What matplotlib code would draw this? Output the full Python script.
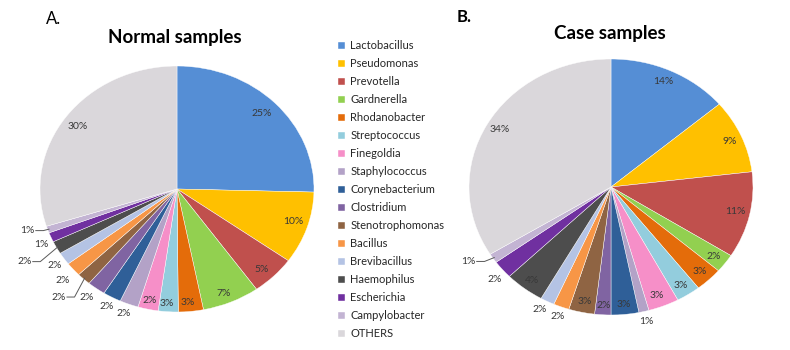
import numpy as np
import matplotlib
matplotlib.use("Agg")
import matplotlib.pyplot as plt

plt.rcParams['font.family'] = ['Lato', 'DejaVu Sans']

# genera (legend order == slice order, clockwise from 12 o'clock)
genera = ['Lactobacillus', 'Pseudomonas', 'Prevotella', 'Gardnerella',
          'Rhodanobacter', 'Streptococcus', 'Finegoldia', 'Staphylococcus',
          'Corynebacterium', 'Clostridium', 'Stenotrophomonas', 'Bacillus',
          'Brevibacillus', 'Haemophilus', 'Escherichia', 'Campylobacter',
          'OTHERS']

colors = ['#558ED5', '#FFC000', '#C0504D', '#92D050', '#E46C0A', '#93CDDD',
          '#F68FC8', '#B3A2C7', '#2F5F98', '#8064A2', '#8F6443', '#F79646',
          '#B4C3E4', '#4D4D4D', '#7030A0', '#C3B4D3', '#DAD7DB']

# relative abundance (%)
normal_vals = [25.4, 9.5, 5.25, 6.75, 2.95, 2.35, 2.4, 2.2, 2.15, 2.15,
               1.65, 1.85, 1.65, 1.7, 1.25, 0.9, 29.9]
case_vals = [13.8, 9.3, 10.9, 2.35, 3.1, 2.75, 3.5, 1.15, 3.15, 1.85,
             2.95, 1.8, 1.6, 4.5, 2.3, 1.2, 33.8]

# printed labels
normal_labels = ['25%', '10%', '5%', '7%', '3%', '3%', '2%', '2%', '2%', '2%',
                 '2%', '2%', '2%', '2%', '1%', '1%', '30%']
case_labels = ['14%', '9%', '11%', '2%', '3%', '3%', '3%', '1%', '3%', '2%',
               '3%', '2%', '2%', '4%', '2%', '1%', '34%']

# label placement: radius (pie radii), angle nudge (deg), leader lines
normal_r = [0.872, 0.89, 0.9, 0.915, 0.93, 0.93, 0.925, 1.087, 1.085, 1.103,
            1.23, 1.117, 1.089, 1.258, 1.088, 1.14, 0.885]
normal_da = [0.6, 1.1, -1.3, -1.3, -0.9, -0.75, -0.4, -0.4, 0.25, -0.6,
             -1.5, 1.1, 0.55, -0.45, 1.45, -2.0, 1.1]
normal_lead = [10, 13, 15]
case_r = [0.9, 0.91, 0.894, 0.906, 0.908, 0.91, 0.905, 1.08, 0.926, 0.93,
          0.915, 1.08, 1.083, 0.914, 1.09, 1.16, 0.9]
case_da = [0.75, -0.7, 0.25, -0.3, -0.35, -0.55, -0.75, 0.0, -0.25, 0.3,
           0.1, 0.15, -0.9, 0.3, 1.25, -3.75, -0.55]
case_lead = [15]

LBL = '#383838'


def draw_pie(ax, vals, labels, radii, nudges, leaders):
    wedges, _ = ax.pie(vals, colors=colors, startangle=90, counterclock=False,
                       wedgeprops=dict(edgecolor='white', linewidth=0.3))
    ax.set_aspect('auto')
    ax.set_xlim(-1, 1)
    ax.set_ylim(-1, 1)
    for i, w in enumerate(wedges):
        mid = np.deg2rad((w.theta1 + w.theta2) / 2.0)
        ang = mid + np.deg2rad(nudges[i])
        x = radii[i] * np.cos(ang)
        y = radii[i] * np.sin(ang)
        ax.text(x, y, labels[i], ha='center', va='center', fontsize=7.5,
                color=LBL, clip_on=False)
        if i in leaders:
            sx = x + 0.058
            kx = sx + 0.055
            ex = 0.99 * np.cos(mid)
            ey = 0.99 * np.sin(mid)
            ax.plot([sx, kx, ex], [y, y, ey], color='#595959', lw=0.7,
                    clip_on=False)
    return wedges


fig = plt.figure(figsize=(7.9, 3.5), dpi=100)

# normal pie: centre (177,189) px, radii 137 x 123 px
ax1 = fig.add_axes([(177 - 137) / 790, (350 - 189 - 123) / 350,
                    274 / 790, 246 / 350])
wedges = draw_pie(ax1, normal_vals, normal_labels, normal_r, normal_da,
                  normal_lead)

# case pie: centre (611,187) px, radii 142 x 128 px
ax2 = fig.add_axes([(611 - 142) / 790, (350 - 187 - 128) / 350,
                    284 / 790, 256 / 350])
draw_pie(ax2, case_vals, case_labels, case_r, case_da, case_lead)

fig.text(46 / 790, 1 - 19 / 350, 'A.', fontsize=12, va='center', ha='left')
fig.text(175 / 790, 1 - 38 / 350, 'Normal samples', fontsize=13.5,
         fontweight='bold', va='center', ha='center')
fig.text(457 / 790, 1 - 17 / 350, 'B.', fontsize=12, fontweight='bold',
         va='center', ha='left')
fig.text(610 / 790, 1 - 33 / 350, 'Case samples', fontsize=13.5,
         fontweight='bold', va='center', ha='center')

fig.legend(wedges, genera, loc='upper left',
           bbox_to_anchor=(338 / 790, 1 - 40 / 350), frameon=False,
           fontsize=8, handlelength=0.6, handleheight=0.6,
           handletextpad=0.5, labelspacing=0.63, borderpad=0,
           borderaxespad=0, labelcolor='#262626')

fig.savefig('out.png', dpi=100)
